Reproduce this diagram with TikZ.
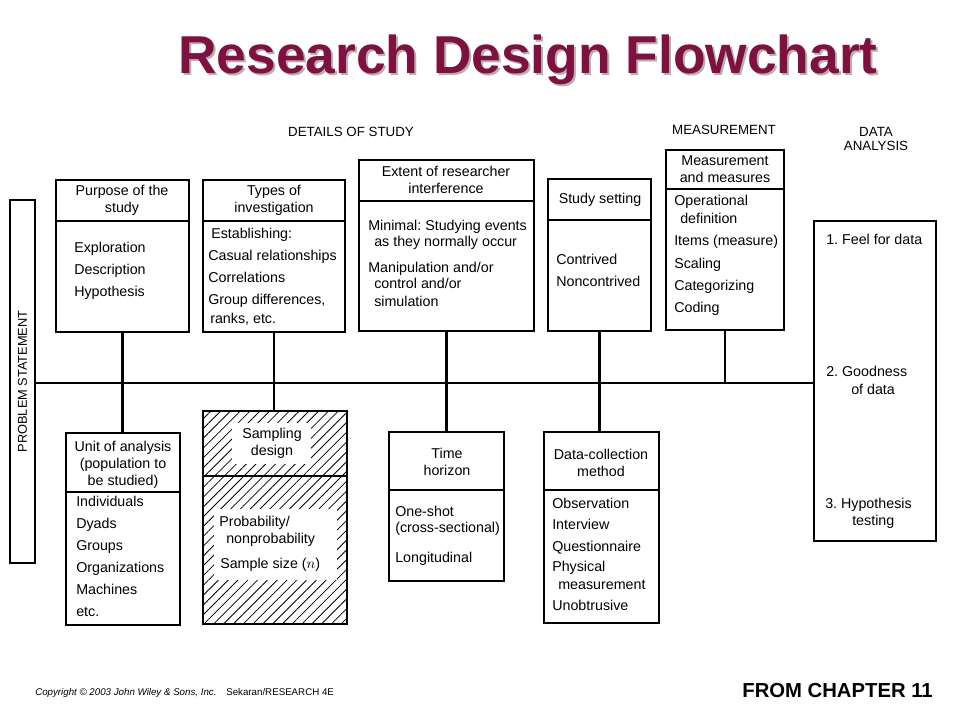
\documentclass[tikz,border=0pt]{standalone}
\usepackage{fontspec}
\setmainfont{Liberation Sans}
\usetikzlibrary{fit,patterns.meta}
\definecolor{titlered}{RGB}{128,16,64}
\frenchspacing
\begin{document}
\begin{tikzpicture}[x=0.75pt,y=-0.75pt,
  box/.style={draw, line width=1.4pt, inner sep=0pt},
  divl/.style={line width=1.3pt},
  conn/.style={line width=1.8pt},
  item/.style={anchor=mid west, inner sep=0pt, font=\fontsize{10.7}{12}\selectfont},
  head/.style={anchor=center, inner sep=0pt, align=center, font=\fontsize{10.7}{12.75}\selectfont},
  lab/.style={anchor=center, inner sep=0pt, align=center, font=\fontsize{10}{12}\selectfont}]
\useasboundingbox (0,0) rectangle (960,720);

% title
\node[anchor=base, inner sep=0pt, text=black!30, font=\fontsize{40}{44}\bfseries] (tshadow) at (530,76) {Research Design Flowchart};
\node[anchor=base, inner sep=0pt, text=titlered, font=\fontsize{40}{44}\bfseries] (title) at (528,74) {Research Design Flowchart};

% column labels
\node[lab] (ldet) at (351,132) {DETAILS OF STUDY};
\node[lab] (lmeas) at (724,130) {MEASUREMENT};
\node[lab] (lda) at (876,139) {DATA\\[-1.5pt]ANALYSIS};

% problem statement
\node[box, fit={(10,200)(35,563)}] (ps) {};
\node[rotate=90, inner sep=0pt, font=\fontsize{9.6}{11}\selectfont] (pstext) at (ps.center) {PROBLEM STATEMENT};

% top boxes
\node[box, fit={(56,180)(189,332)}] (purp) {};
\draw[divl] (56,221) -- (189,221);
\node[head] (purph) at (122,200.5) {Purpose of the\\study};
\foreach \t/\x/\y [count=\k] in {Exploration/74/249, Description/74/271, Hypothesis/74/293}
  \node[item] (purpi\k) at (\x,\y) {\t};

\node[box, fit={(203,180)(345,332)}] (types) {};
\draw[divl] (203,221) -- (345,221);
\node[head] (typesh) at (274,200.5) {Types of\\investigation};
\foreach \t/\x/\y [count=\k] in {Establishing:/211/235, Casual relationships/208/257, Correlations/208/279, {Group differences,}/208/301, {ranks, etc.}/210/320}
  \node[item] (typesi\k) at (\x,\y) {\t};

\node[box, fit={(359,160)(534,331)}] (ext) {};
\draw[divl] (359,201) -- (534,201);
\node[head] (exth) at (446,180) {Extent of researcher\\interference};
\foreach \t/\x/\y [count=\k] in {Minimal: Studying events/368/227, as they normally occur/374/243, {Manipulation and/or}/368/269, {control and/or}/374/285, simulation/374/303}
  \node[item] (exti\k) at (\x,\y) {\t};

\node[box, fit={(548,179)(651,331)}] (sett) {};
\draw[divl] (548,220) -- (651,220);
\node[head] (setth) at (600,200) {Study setting};
\foreach \t/\x/\y [count=\k] in {Contrived/556/261, Noncontrived/556/283}
  \node[item] (setti\k) at (\x,\y) {\t};

\node[box, fit={(666,150)(784,330)}] (meas) {};
\draw[divl] (666,189) -- (784,189);
\node[head] (meash) at (725,169.5) {Measurement\\and measures};
\foreach \t/\x/\y [count=\k] in {Operational/674/202, definition/680/220, Items (measure)/674/242, Scaling/674/265, Categorizing/674/287, Coding/674/309}
  \node[item] (measi\k) at (\x,\y) {\t};

\node[box, fit={(814,221)(936,541)}] (da) {};
\foreach \t/\x/\y [count=\k] in {1. Feel for data/826/241, 2. Goodness/826/373, of data/851/391, 3. Hypothesis/825/505, testing/852/522}
  \node[item] (dai\k) at (\x,\y) {\t};

% bottom boxes
\node[box, fit={(66,433)(180,625)}] (unit) {};
\draw[divl] (66,492) -- (180,492);
\node[head] (unith) at (123,464.5) {Unit of analysis\\(population to\\be studied)};
\foreach \t/\x/\y [count=\k] in {Individuals/76/503, Dyads/76/525, Groups/76/547, Organizations/76/569, Machines/76/591, etc./76/613}
  \node[item] (uniti\k) at (\x,\y) {\t};

\node[box, fit={(203,411)(347,624)}, pattern={Lines[angle=45,distance=5.2pt,line width=0.6pt]}] (samp) {};
\fill[white] (232,423) rectangle (311,464);
\fill[white] (214,509) rectangle (337,580);
\draw[divl] (203,476) -- (347,476);
\node[head] (samph) at (272,443.5) {Sampling\\design};
\foreach \t/\x/\y [count=\k] in {{Probability/}/219/523, nonprobability/226/540, Sample size (\(n\))/220/565}
  \node[item] (sampi\k) at (\x,\y) {\t};

\node[box, fit={(389,432)(504,581)}] (time) {};
\draw[divl] (389,490) -- (504,490);
\node[head] (timeh) at (447,462) {Time\\horizon};
\foreach \t/\x/\y [count=\k] in {One-shot/395/513, (cross-sectional)/395/529, Longitudinal/395/559}
  \node[item] (timei\k) at (\x,\y) {\t};

\node[box, fit={(544,432)(659,623)}] (dc) {};
\draw[divl] (544,490) -- (659,490);
\node[head] (dch) at (601,463) {Data-collection\\method};
\foreach \t/\x/\y [count=\k] in {Observation/552/505, Interview/552/526, Questionnaire/552/548, Physical/552/568, measurement/558/586, Unobtrusive/552/607}
  \node[item] (dci\k) at (\x,\y) {\t};

% connectors
\coordinate (mainy) at (35,383);
\draw[conn] (ps.east |- mainy) -- (da.west |- mainy);
\draw[conn] (purp.south) -- (purp.south |- unit.north);
\draw[conn] (types.south) -- (types.south |- samp.north);
\draw[conn] (ext.south) -- (ext.south |- time.north);
\draw[conn] (sett.south) -- (sett.south |- dc.north);
\draw[conn] (meas.south) -- (meas.south |- mainy);

% footer
\node[anchor=base west, inner sep=0pt, font=\fontsize{7.3}{9}\selectfont] (copy) at (35,695) {\textit{Copyright © 2003 John Wiley \& Sons, Inc.}\quad Sekaran/RESEARCH 4E};
\node[anchor=base east, inner sep=0pt, font=\fontsize{15.2}{18}\bfseries] (chap) at (933,697) {FROM CHAPTER 11};
\end{tikzpicture}
\end{document}
